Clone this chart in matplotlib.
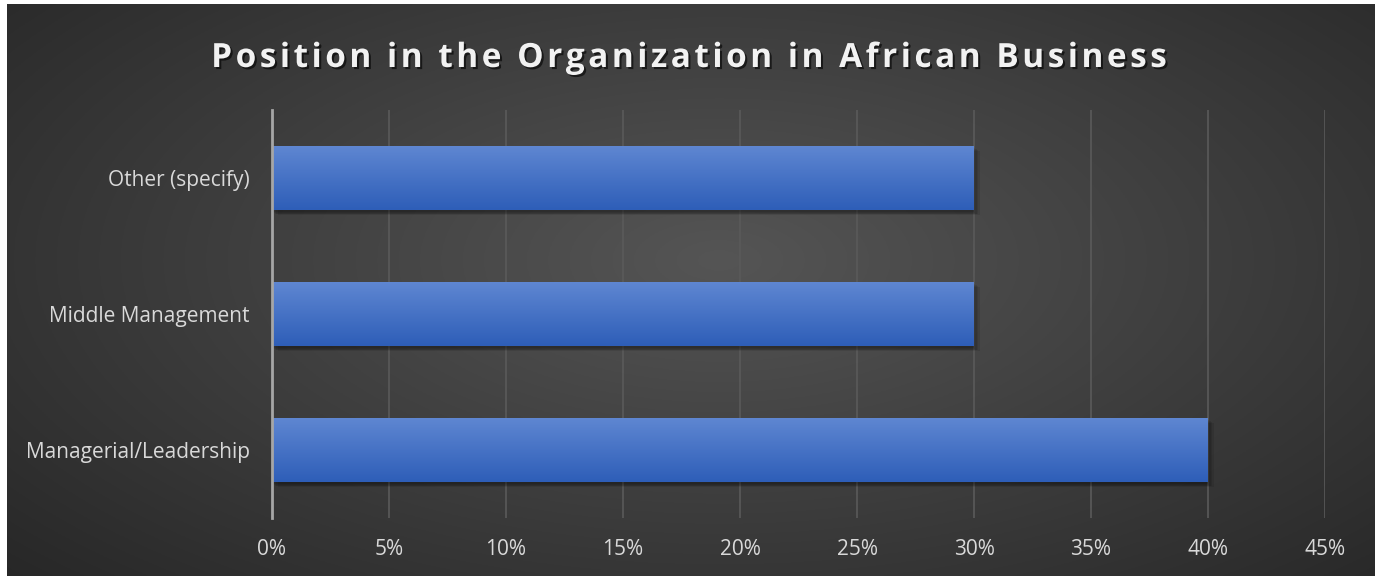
import numpy as np
import matplotlib.pyplot as plt
import matplotlib.patheffects as pe
from matplotlib.ticker import FuncFormatter
from matplotlib.font_manager import FontProperties, findfont, get_font

# data
categories = ["Managerial/Leadership", "Middle Management", "Other (specify)"]
shares = [0.40, 0.30, 0.30]
title = "Position in the Organization in African Business"

plt.rcParams['font.family'] = ['Open Sans', 'DejaVu Sans']

fig = plt.figure(figsize=(13.82, 5.76), dpi=100)
fig.patch.set_facecolor('white')

# background panel with radial gradient
bg = fig.add_axes([7 / 1382, 0, 1368 / 1382, 572 / 576])
bg.set_axis_off()
yy, xx = np.mgrid[0:300, 0:700]
cx, cy = 0.52, 0.55
d = np.sqrt(((xx / 700 - cx) / 0.75) ** 2 + ((yy / 300 - cy) / 0.85) ** 2)
d = np.clip(d, 0, 1)
c0 = np.array([0x55, 0x55, 0x55]) / 255
c1 = np.array([0x25, 0x25, 0x25]) / 255
img = c0[None, None, :] * (1 - d[..., None]) + c1[None, None, :] * d[..., None]
bg.imshow(img, aspect='auto', extent=[0, 1, 0, 1], origin='lower')
bg.set_xlim(0, 1)
bg.set_ylim(0, 1)

ax = fig.add_axes([272 / 1382, 58 / 576, (1325 - 272) / 1382, 408 / 576])
ax.set_facecolor('none')

y = np.arange(len(categories))
h = 0.476
# soft shadow under the bars
for k in range(5):
    ax.barh(y - 0.012 - 0.006 * k, shares, height=h, left=0.0006 * k,
            color='black', alpha=0.09, linewidth=0, zorder=2)
bars = ax.barh(y, shares, height=h, color='#4472c4', linewidth=0, zorder=3)

grad = np.linspace(0, 1, 100)[:, None]
top = np.array([0x5f, 0x87, 0xd2]) / 255
bot = np.array([0x2e, 0x5e, 0xb8]) / 255
gimg = bot[None, None, :] * (1 - grad[..., None]) + top[None, None, :] * grad[..., None]
for b in bars:
    x0, y0 = b.get_x(), b.get_y()
    im = ax.imshow(gimg, aspect='auto', origin='lower', zorder=4,
                   extent=[x0, x0 + b.get_width(), y0, y0 + b.get_height()])
    im.set_clip_path(b)

ax.set_xlim(0, 0.45)
ax.set_ylim(-0.5, len(categories) - 0.5)
ax.set_xticks(np.arange(0, 0.451, 0.05))
ax.xaxis.set_major_formatter(FuncFormatter(lambda v, p: f"{v * 100:.0f}%"))
ax.set_yticks(y)
ax.set_yticklabels(categories)
ax.grid(axis='x', color='#5a5a5a', linewidth=1.2, zorder=0)
ax.set_axisbelow(True)
for s in ['top', 'right', 'bottom']:
    ax.spines[s].set_visible(False)
ax.spines['left'].set_color('#a6a6a6')
ax.spines['left'].set_linewidth(2)
ax.spines['left'].set_zorder(5)
ax.tick_params(axis='both', length=0, colors='#d9d9d9', labelsize=15)
ax.tick_params(axis='x', pad=15)
ax.tick_params(axis='y', pad=16)

# title with letter spacing, one glyph at a time
tsize = 24
spacing = 3.5  # px
fp = FontProperties(family='Open Sans', weight='bold', size=tsize)
font = get_font(findfont(fp))
font.set_size(tsize, fig.dpi)
adv = [font.load_char(ord(c)).linearHoriAdvance / 65536 for c in title]
total = sum(adv) + spacing * (len(title) - 1)
x = 689 - total / 2
for c, a in zip(title, adv):
    fig.text(x / 1382, (576 - 67) / 576, c, ha='left', va='baseline',
             fontproperties=fp, color='#f2f2f2',
             path_effects=[pe.withSimplePatchShadow(offset=(1.5, -1.5),
                                                    shadow_rgbFace='black', alpha=0.6)])
    x += a + spacing

fig.savefig('out.png', dpi=100, facecolor=fig.get_facecolor())
